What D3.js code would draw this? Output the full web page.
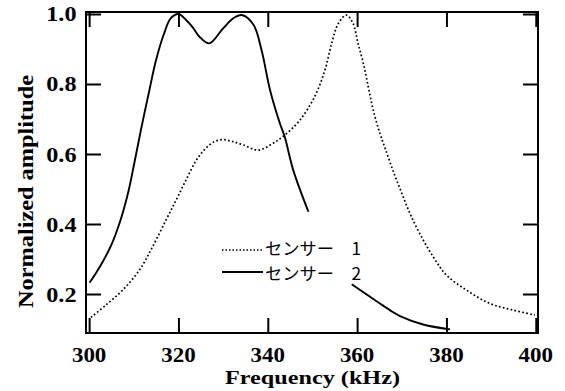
<!DOCTYPE html>
<html>
<head>
<meta charset="utf-8">
<script src="https://cdn.jsdelivr.net/npm/d3@7"></script>
<style>
  html, body { margin: 0; padding: 0; background: #fff; }
  svg { display: block; }
</style>
</head>
<body>
<svg id="chart" width="565" height="391"></svg>
<script>
// Frequency response of two sensors (normalized amplitude vs frequency)
const sensor1Freq = [300.4, 303.8, 307.5, 311.3, 314.2, 317.2, 319.5, 321.7, 323.9, 325.8, 328.0, 330.0, 332.0, 334.5, 337.9, 341.2, 343.8, 347.2, 350.5, 352.8, 354.3, 355.8, 357.6, 359.1, 360.2, 361.4, 362.5, 363.6, 365.1, 366.4, 368.1, 370.0, 371.8, 374.0, 377.0, 380.0, 384.5, 389.7, 394.9, 399.8];
const sensor1Amp  = [0.133, 0.169, 0.211, 0.269, 0.335, 0.411, 0.469, 0.526, 0.580, 0.612, 0.635, 0.641, 0.636, 0.626, 0.611, 0.631, 0.654, 0.697, 0.764, 0.840, 0.916, 0.973, 0.997, 0.973, 0.916, 0.859, 0.792, 0.726, 0.659, 0.612, 0.550, 0.488, 0.431, 0.373, 0.307, 0.254, 0.211, 0.173, 0.154, 0.140];

// null marks the break in the sensor 2 trace
const sensor2Freq = [300.1, 302.5, 304.9, 306.8, 308.7, 310.1, 311.6, 313.5, 315.0, 316.8, 318.3, 320.0, 321.7, 323.2, 324.7, 326.9, 330.0, 332.3, 334.2, 336.8, 338.6, 340.5, 342.7, 343.8, 345.7, 349.1, 354.0, 358.8, 362.9, 365.1, 368.1, 369.6, 374.8, 380.8];
const sensor2Amp  = [0.232, 0.280, 0.338, 0.402, 0.488, 0.573, 0.669, 0.783, 0.869, 0.945, 0.988, 1.000, 0.983, 0.962, 0.935, 0.916, 0.959, 0.988, 0.997, 0.969, 0.897, 0.783, 0.688, 0.649, 0.554, 0.435, null, 0.228, 0.192, 0.173, 0.148, 0.137, 0.113, 0.099];

const xTicks = [300, 320, 340, 360, 380, 400];
const yTicks = [0.2, 0.4, 0.6, 0.8, 1.0];
const legendLabels = ["センサー　1", "センサー　2"];
const xTitle = "Frequency (kHz)";
const yTitle = "Normalized amplitude";

const svg = d3.select("#chart");
const L = 86, R = 538, T = 12, B = 333;

const x = d3.scaleLinear().domain([299.3, 400.5]).range([L, R]);
const y = d3.scaleLinear().domain([0.0886, 1.0057]).range([B, T]);

const serif = "'Liberation Serif', 'Times New Roman', serif";
const tickLen = 15;

// Curves
const s1 = sensor1Freq.map((f, i) => [f, sensor1Amp[i]]);
const s2 = sensor2Freq.map((f, i) => [f, sensor2Amp[i]]);

const line = d3.line()
  .defined(d => d[1] != null)
  .x(d => x(d[0]))
  .y(d => y(d[1]))
  .curve(d3.curveCatmullRom.alpha(0.5));

svg.append("path").datum(s1)
  .attr("d", line)
  .attr("fill", "none")
  .attr("stroke", "#000")
  .attr("stroke-width", 1.7)
  .attr("stroke-dasharray", "1.7,2.3");

svg.append("path").datum(s2)
  .attr("d", line)
  .attr("fill", "none")
  .attr("stroke", "#000")
  .attr("stroke-width", 1.9);

// Axes with inward ticks on all four sides
const axisStyle = g => {
  g.select(".domain").remove();
  g.selectAll(".tick line").attr("stroke", "#000").attr("stroke-width", 2);
  g.selectAll(".tick text").remove();
};

svg.append("g").attr("transform", `translate(0,${B})`)
  .call(d3.axisBottom(x).tickValues(xTicks).tickSize(-tickLen)).call(axisStyle);
svg.append("g").attr("transform", `translate(0,${T})`)
  .call(d3.axisTop(x).tickValues(xTicks).tickSize(-tickLen)).call(axisStyle);
svg.append("g").attr("transform", `translate(${L},0)`)
  .call(d3.axisLeft(y).tickValues(yTicks).tickSize(-tickLen)).call(axisStyle);
svg.append("g").attr("transform", `translate(${R},0)`)
  .call(d3.axisRight(y).tickValues(yTicks).tickSize(-tickLen)).call(axisStyle);

// Frame
svg.append("rect")
  .attr("x", L).attr("y", T)
  .attr("width", R - L).attr("height", B - T)
  .attr("fill", "none").attr("stroke", "#000").attr("stroke-width", 2);

// Tick labels
svg.append("g").selectAll("text").data(xTicks).join("text")
  .attr("transform", d => `translate(${x(d)},362) scale(1.12,1)`)
  .attr("text-anchor", "middle")
  .attr("font-family", serif).attr("font-weight", "bold").attr("font-size", 20.5)
  .text(d => d);

svg.append("g").selectAll("text").data(yTicks).join("text")
  .attr("transform", d => `translate(76.5,${y(d) + 7.5}) scale(1.1,1)`)
  .attr("text-anchor", "end")
  .attr("font-family", serif).attr("font-weight", "bold").attr("font-size", 22)
  .text(d => d.toFixed(1));

// Axis titles
svg.append("text")
  .attr("x", 312.5).attr("y", 384)
  .attr("text-anchor", "middle")
  .attr("font-family", serif).attr("font-weight", "bold").attr("font-size", 19)
  .attr("textLength", 175).attr("lengthAdjust", "spacingAndGlyphs")
  .text(xTitle);

svg.append("text")
  .attr("transform", "translate(33,191.5) rotate(-90)")
  .attr("text-anchor", "middle")
  .attr("font-family", serif).attr("font-weight", "bold").attr("font-size", 21)
  .attr("textLength", 233).attr("lengthAdjust", "spacingAndGlyphs")
  .text(yTitle);

// Legend
const legend = svg.append("g");
const legendRows = [
  { label: legendLabels[0], dash: "1.5,2", ly: 250, ty: 255 },
  { label: legendLabels[1], dash: null, ly: 272, ty: 280 }
];
legendRows.forEach(r => {
  legend.append("line")
    .attr("x1", 222).attr("x2", 263)
    .attr("y1", r.ly).attr("y2", r.ly)
    .attr("stroke", "#000")
    .attr("stroke-width", r.dash ? 1.4 : 1.8)
    .attr("stroke-dasharray", r.dash);
  legend.append("text")
    .attr("x", 265).attr("y", r.ty)
    .attr("font-family", "'Noto Sans CJK JP', sans-serif")
    .attr("font-size", 17)
    .attr("textLength", 96).attr("lengthAdjust", "spacingAndGlyphs")
    .text(r.label);
});
</script>
</body>
</html>
